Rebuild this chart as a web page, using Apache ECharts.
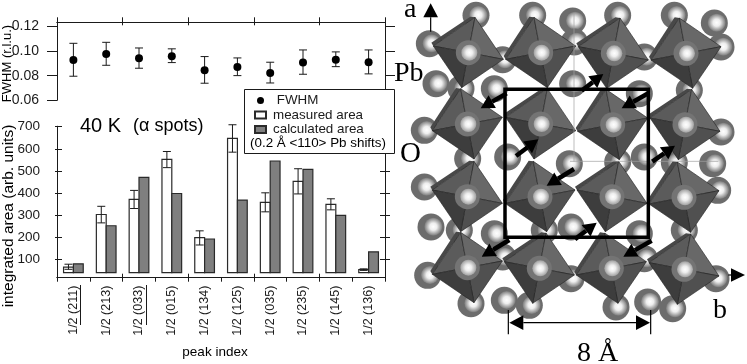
<!DOCTYPE html>
<html>
<head>
<meta charset="utf-8">
<title>FWHM and integrated area</title>
<script src="https://cdn.jsdelivr.net/npm/echarts@6/dist/echarts.min.js"></script>
<style>
html, body { margin: 0; padding: 0; background: #fff; }
#chart { width: 747px; height: 364px; }
</style>
</head>
<body>
<div id="chart"></div>
<script>
// peak data
const peaks = ['1/2 (211)', '1/2 (213)', '1/2 (033)', '1/2 (015)', '1/2 (134)', '1/2 (125)', '1/2 (035)', '1/2 (235)', '1/2 (145)', '1/2 (136)']
const fwhm = [0.0929, 0.0977, 0.0942, 0.0958, 0.0844, 0.0872, 0.0823, 0.0907, 0.0931, 0.0910]
const fwhmHigh = [0.1064, 0.1072, 0.1026, 0.1019, 0.0956, 0.0945, 0.0910, 0.1010, 0.0994, 0.1010]
const fwhmLow = [0.0796, 0.0885, 0.0861, 0.0907, 0.0739, 0.0801, 0.0741, 0.0812, 0.0874, 0.0815]
const measured = [65, 303, 371, 552, 198, 647, 358, 453, 349, 54]
const measuredHigh = [78, 340, 412, 588, 229, 709, 401, 510, 374, 57]
const measuredLow = [55, 265, 330, 515, 165, 585, 315, 396, 324, 50]
const calculated = [80, 252, 471, 398, 192, 368, 545, 507, 299, 134]
const barBase = 40
const fwhmTicks = [0.06, 0.08, 0.10, 0.12]
const areaTicks = [100, 200, 300, 400, 500, 600, 700]

// structure sketch, in 3x crop pixels
const octaCentres = [
    [[235, 158], [452, 158], [670, 160], [888, 160]],
    [[232, 372], [452, 372], [668, 374], [885, 374]],
    [[232, 590], [450, 590], [666, 590], [882, 592]],
    [[232, 803], [448, 805], [664, 805], [882, 808]]
]
const backAtoms = [
    [265, 45], [435, 45], [555, 62], [690, 45], [860, 45], [980, 68],
    [125, 130], [345, 178], [560, 125], [770, 170], [1000, 140], [145, 250], [220, 265], [320, 265], [555, 250], [755, 280], [905, 270],
    [110, 390], [1000, 395], [240, 475], [360, 470], [545, 490], [690, 485], [770, 470], [860, 487], [975, 490],
    [110, 560], [990, 570], [130, 680], [215, 690], [320, 700], [470, 690], [550, 680], [755, 700], [890, 690],
    [120, 825], [345, 770], [550, 835], [770, 775], [985, 835], [250, 910], [350, 900], [425, 915], [685, 920], [780, 905], [855, 925]
]
const shiftArrows = [
    [575, 272, 640, 222], [350, 280, 272, 325], [775, 280, 695, 325],
    [378, 468, 445, 418], [552, 507, 470, 557], [787, 485, 855, 437],
    [555, 718, 620, 668], [358, 720, 275, 770], [785, 722, 700, 770]
]

const textFont = '"Liberation Sans", Arial, sans-serif'
const serifFont = '"Liberation Serif", "Times New Roman", serif'
const ink = '#1a1a1a'
const sx = x => 390 + x / 3
const sy = y => y / 3

const renderBar = side => (params, api) => {
    const base = api.coord([api.value(0), barBase])
    const top = api.coord([api.value(0), api.value(1)])
    const w = api.size([1, 0])[0] * 0.3
    return {
        type: 'rect',
        shape: { x: side < 0 ? base[0] - w : base[0], y: top[1], width: w, height: base[1] - top[1] },
        style: api.style()
    }
}

const renderError = (shift, cap) => (params, api) => {
    const x = api.coord([api.value(0), 0])[0] + api.size([1, 0])[0] * shift
    const low = api.coord([api.value(0), api.value(1)])[1]
    const high = api.coord([api.value(0), api.value(2)])[1]
    const style = { stroke: ink, lineWidth: 1, fill: null }
    const line = (x1, y1, x2, y2) => ({ type: 'line', shape: { x1, y1, x2, y2 }, style })
    return {
        type: 'group',
        children: [
            line(x, low, x, high),
            line(x - cap, low, x + cap, low),
            line(x - cap, high, x + cap, high)
        ]
    }
}

// one way ticks only, so crossing ticks need a second axis
const tickStyle = { lineStyle: { color: ink, width: 1 } }
const xTickAxis = (gridIndex, position, inside, length) => ({
    type: 'category', gridIndex, position, data: peaks,
    axisLine: { show: true, onZero: false, ...tickStyle },
    axisTick: { show: true, inside, length, alignWithLabel: false, ...tickStyle },
    axisLabel: { show: false },
    splitLine: { show: false }
})
const yTickAxis = (gridIndex, position, inside, length, min, max, values) => ({
    type: 'value', gridIndex, position, min, max,
    axisLine: { show: true, onZero: false, ...tickStyle },
    axisTick: { show: true, inside, length, customValues: values, ...tickStyle },
    axisLabel: { show: false, customValues: values },
    splitLine: { show: false }
})
const fwhmMin = 0.06
const fwhmMax = 0.1235
const areaMin = 17
const areaMax = 702

const xAxis = [
    xTickAxis(0, 'top', false, 5),
    xTickAxis(0, 'top', true, 3),
    {
        ...xTickAxis(1, 'bottom', false, 4),
        axisLabel: {
            show: true, interval: 0, rotate: 90, margin: 8, verticalAlign: 'middle',
            fontFamily: textFont, fontSize: 12.5, color: ink
        }
    },
    xTickAxis(1, 'bottom', true, 4)
]
const yAxis = [
    {
        ...yTickAxis(0, 'left', false, 10, fwhmMin, fwhmMax, fwhmTicks),
        axisLabel: {
            show: true, margin: 18, customValues: fwhmTicks,
            formatter: v => v.toFixed(2),
            fontFamily: textFont, fontSize: 14, color: ink
        }
    },
    yTickAxis(0, 'right', false, 10, fwhmMin, fwhmMax, fwhmTicks),
    {
        ...yTickAxis(1, 'left', false, 2, areaMin, areaMax, areaTicks),
        axisLabel: {
            show: true, margin: 17, customValues: areaTicks,
            fontFamily: textFont, fontSize: 13.5, color: ink
        }
    },
    yTickAxis(1, 'left', true, 5, areaMin, areaMax, areaTicks),
    yTickAxis(1, 'right', false, 5, areaMin, areaMax, areaTicks),
    yTickAxis(1, 'right', true, 5, areaMin, areaMax, areaTicks)
]

const series = [
    {
        name: 'FWHM errors', type: 'custom', xAxisIndex: 0, yAxisIndex: 0,
        renderItem: renderError(0, 4),
        encode: { x: 0, y: [1, 2] },
        data: peaks.map((p, i) => [i, fwhmLow[i], fwhmHigh[i]])
    },
    {
        name: 'FWHM', type: 'scatter', xAxisIndex: 0, yAxisIndex: 0,
        symbol: 'circle', symbolSize: 8,
        itemStyle: { color: '#000', opacity: 1 },
        data: peaks.map((p, i) => [i, fwhm[i]])
    },
    {
        name: 'measured area', type: 'custom', xAxisIndex: 2, yAxisIndex: 2,
        renderItem: renderBar(-1),
        itemStyle: { color: '#fff', borderColor: '#2a2a2a', borderWidth: 1.2 },
        encode: { x: 0, y: 1 },
        data: peaks.map((p, i) => [i, measured[i]])
    },
    {
        name: 'calculated area', type: 'custom', xAxisIndex: 2, yAxisIndex: 2,
        renderItem: renderBar(1),
        itemStyle: { color: '#7f7f7f', borderColor: '#2a2a2a', borderWidth: 1.2 },
        encode: { x: 0, y: 1 },
        data: peaks.map((p, i) => [i, calculated[i]])
    },
    {
        name: 'area errors', type: 'custom', xAxisIndex: 2, yAxisIndex: 2,
        renderItem: renderError(-0.15, 4),
        encode: { x: 0, y: [1, 2] },
        data: peaks.map((p, i) => [i, measuredLow[i], measuredHigh[i]])
    }
]

// structure drawing
const poly = (points, fill, z, stroke) => ({
    type: 'polygon', silent: true, z,
    shape: { points: points.map(p => [sx(p[0]), sy(p[1])]) },
    style: { fill, stroke: stroke || null, lineWidth: stroke ? 0.6 : 0 }
})
const sphere = (x, y, r, mid, z) => ({
    type: 'circle', silent: true, z,
    shape: { cx: sx(x), cy: sy(y), r },
    style: {
        fill: {
            type: 'radial', x: 0.5, y: 0.5, r: 0.5,
            colorStops: [{ offset: 0, color: '#fff' }, { offset: 0.4, color: '#eee' }, { offset: 1, color: mid }]
        }
    }
})
const disc = (x, y, r, fill, z) => ({
    type: 'circle', silent: true, z,
    shape: { cx: sx(x), cy: sy(y), r },
    style: { fill }
})
const arrow = (x1, y1, x2, y2, width, headLen, headWide, z) => {
    const len = Math.hypot(x2 - x1, y2 - y1)
    const ux = (x2 - x1) / len
    const uy = (y2 - y1) / len
    const bx = x2 - ux * headLen
    const by = y2 - uy * headLen
    return [
        {
            type: 'line', silent: true, z,
            shape: { x1: sx(x1), y1: sy(y1), x2: sx(bx), y2: sy(by) },
            style: { stroke: '#000', lineWidth: width }
        },
        poly([[x2, y2], [bx - uy * headWide, by + ux * headWide], [bx + uy * headWide, by - ux * headWide]], '#000', z)
    ]
}
const rule = (x1, y1, x2, y2, stroke, lineWidth, z) => ({
    type: 'line', silent: true, z,
    shape: { x1: sx(x1), y1: sy(y1), x2: sx(x2), y2: sy(y2) },
    style: { stroke, lineWidth }
})
const label = (text, x, y, font, align, z, rotation) => ({
    type: 'text', silent: true, z: z || 5, x, y, rotation: rotation || 0,
    style: { text, font, fill: '#000', align: align || 'left', verticalAlign: 'middle' }
})

const structure = []
backAtoms.forEach(a => {
    structure.push(disc(a[0] - 7, a[1] + 1, 13.5, '#6c6c6c', 1))
    structure.push(sphere(a[0], a[1], 9, '#7a7a7a', 1))
})
octaCentres.forEach((row, r) => row.forEach((c, k) => {
    const t = (r + k) % 2 === 0 ? 20 : -20
    const top = [c[0] + t, c[1] - 106]
    const right = [c[0] + 105, c[1] + t]
    const bottom = [c[0] - t, c[1] + 105]
    const left = [c[0] - 105, c[1] - t]
    structure.push(poly([left, top, [top[0] - 14, top[1] - 2], [left[0] - 6, left[1] - 10]], '#484848', 2))
    structure.push(poly([c, left, top], '#5b5b5b', 2, '#222'))
    structure.push(poly([c, top, right], '#686868', 2, '#222'))
    structure.push(poly([c, right, bottom], '#505050', 2, '#222'))
    structure.push(poly([c, bottom, left], '#3d3d3d', 2, '#222'))
    structure.push(disc(c[0], c[1], 12.5, '#747474', 3))
    structure.push(sphere(c[0] + 3, c[1], 8, '#a0a0a0', 3))
}))
structure.push(rule(552, 40, 552, 485, '#a0a0a0', 0.7, 3))
structure.push(rule(540, 484, 985, 484, '#a0a0a0', 0.7, 3))
structure.push({
    type: 'rect', silent: true, z: 4,
    shape: { x: sx(345), y: sy(268), width: 430 / 3, height: 444 / 3 },
    style: { fill: null, stroke: '#000', lineWidth: 3.5 }
})
shiftArrows.forEach(a => structure.push(...arrow(a[0], a[1], a[2], a[3], 4.5, 40, 22, 4)))
structure.push(...arrow(122, 95, 122, 10, 1.2, 42, 22, 4))
structure.push(...arrow(1015, 825, 1065, 825, 1.2, 42, 20, 4))
structure.push(rule(355, 930, 355, 1003, '#000', 1.2, 4))
structure.push(rule(782, 930, 782, 1003, '#000', 1.2, 4))
structure.push(rule(400, 968, 740, 968, '#000', 1.2, 4))
structure.push(poly([[358, 968], [400, 946], [400, 990]], '#000', 4))
structure.push(poly([[780, 968], [738, 946], [738, 990]], '#000', 4))
structure.push(label('a', 404, 10, '28px ' + serifFont))
structure.push(label('Pb', 394, 74, '28px ' + serifFont))
structure.push(label('O', 400, 154, '29px ' + serifFont))
structure.push(label('b', 713, 311, '28px ' + serifFont))
structure.push(label('8 Å', 577, 354, '28px ' + serifFont))

const annotations = [
    label('FWHM (r.l.u.)', 7, 63.5, '13px ' + textFont, 'center', 5, Math.PI / 2),
    label('integrated area (arb. units)', 9, 216, '15.5px ' + textFont, 'center', 5, Math.PI / 2),
    label('peak index', 215, 352, '13.5px ' + textFont, 'center'),
    label('40 K', 80, 126, '20px ' + textFont),
    label('(α spots)', 133, 126, '18px ' + textFont),
    // the two underlined peak labels
    { type: 'line', silent: true, z: 5, shape: { x1: 80.5, y1: 285, x2: 80.5, y2: 325 }, style: { stroke: ink, lineWidth: 1 } },
    { type: 'line', silent: true, z: 5, shape: { x1: 146.5, y1: 285, x2: 146.5, y2: 325 }, style: { stroke: ink, lineWidth: 1 } },
    // legend frame
    {
        type: 'rect', silent: true, z: 10,
        shape: { x: 244.5, y: 89.5, width: 150, height: 64 },
        style: { fill: '#fff', stroke: ink, lineWidth: 1 }
    },
    label('(0.2 Å <110> Pb shifts)', 250, 143, '13.4px ' + textFont, 'left', 12)
]

const option = {
    animation: false,
    backgroundColor: '#fff',
    grid: [
        { left: 57, width: 328, top: 22.3, height: 78 },
        { left: 57, width: 328, top: 126.3, height: 151.4 }
    ],
    legend: {
        z: 11,
        orient: 'vertical',
        left: 254,
        top: 94,
        padding: 0,
        itemGap: 1.5,
        itemWidth: 11,
        itemHeight: 7,
        selectedMode: false,
        formatter: n => (n === 'FWHM' ? ' FWHM' : n),
        textStyle: { fontFamily: textFont, fontSize: 13.4, color: ink, padding: [0, 0, 0, 2] },
        data: [
            { name: 'FWHM', icon: 'circle' },
            { name: 'measured area', icon: 'rect' },
            { name: 'calculated area', icon: 'rect' }
        ]
    },
    xAxis,
    yAxis,
    series,
    graphic: { elements: structure.concat(annotations) }
}

const chart = echarts.init(document.getElementById('chart'), null, { renderer: 'canvas' })
chart.setOption(option)
</script>
</body>
</html>
